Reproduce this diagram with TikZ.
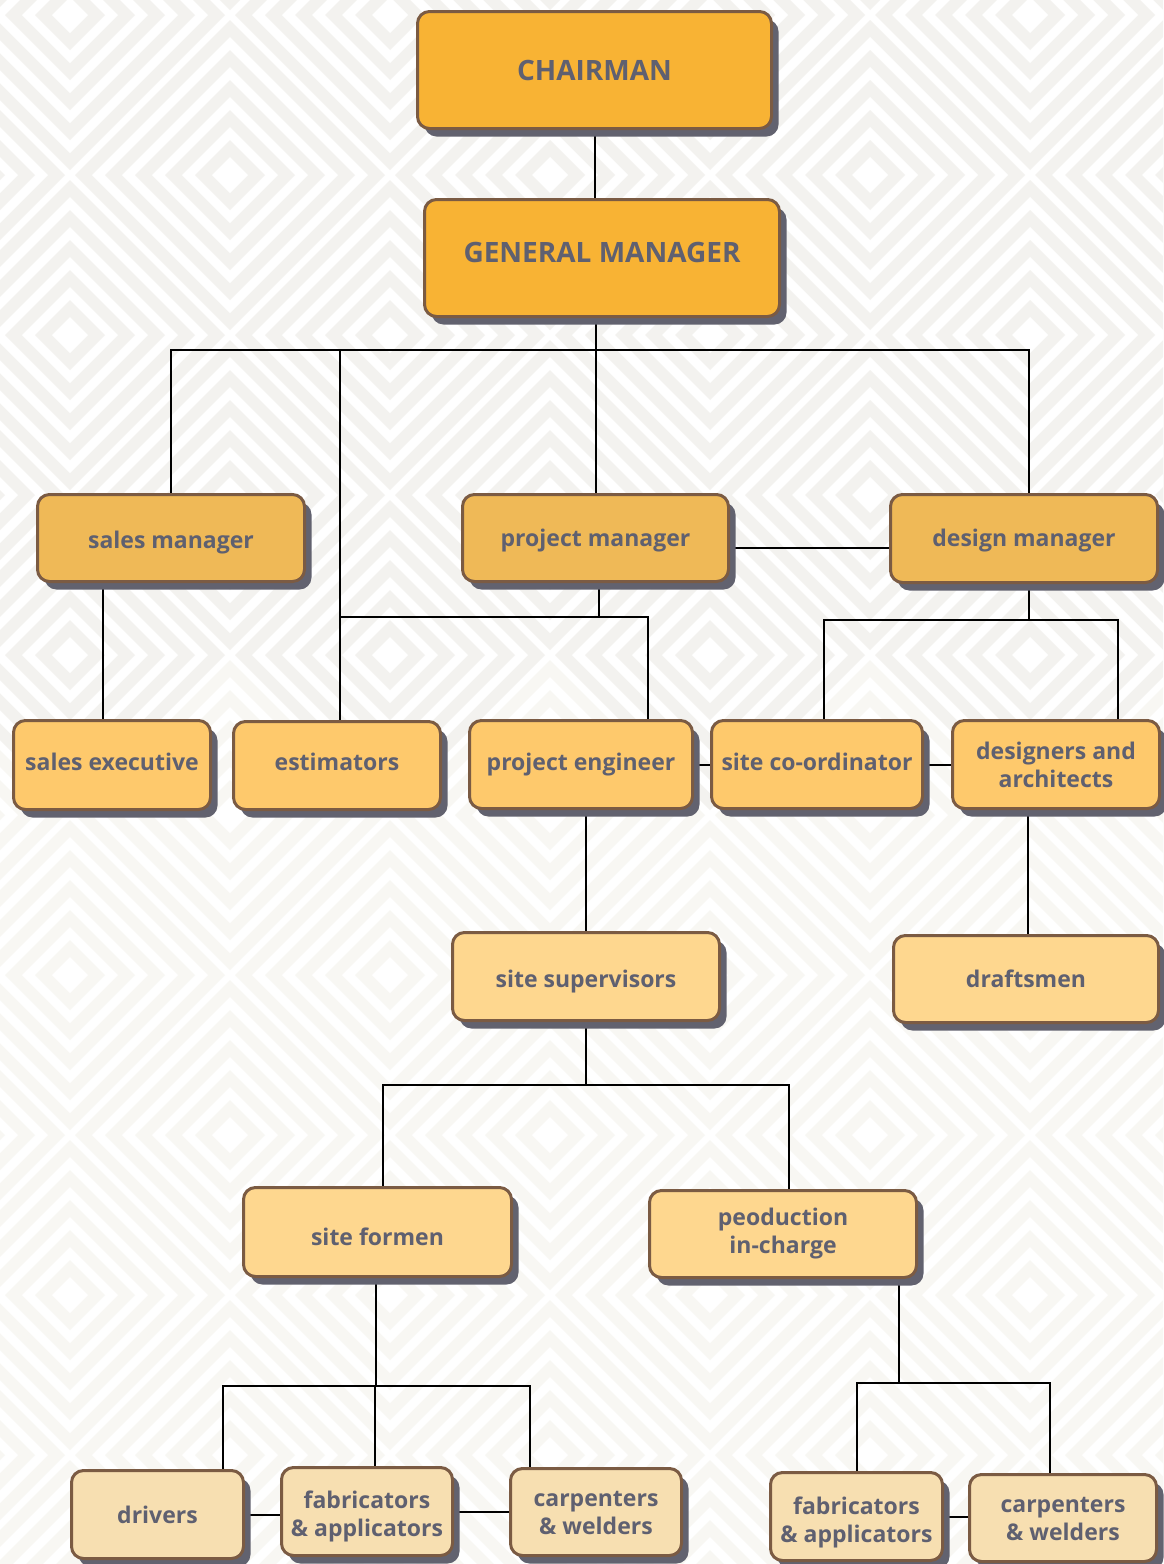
\documentclass[tikz,border=0pt]{standalone}
\usepackage{fontspec}
\setmainfont{Open Sans}
\usetikzlibrary{shadows}
\definecolor{bgA}{HTML}{F3F2EF}
\definecolor{bgB}{HTML}{F8F7F3}
\definecolor{brd}{HTML}{7B5B43}
\definecolor{shd}{HTML}{62626F}
\definecolor{txt}{HTML}{5F6070}
\definecolor{cA}{HTML}{F8B334}
\definecolor{cB}{HTML}{EFB957}
\definecolor{cC}{HTML}{FEC96C}
\definecolor{cD}{HTML}{FED78F}
\definecolor{cE}{HTML}{F7DFB1}
\pgfdeclarelayer{bg}\pgfdeclarelayer{mid}\pgfsetlayers{bg,mid,main}
\newcommand\bgcell[3]{%
  \foreach \r/\c in {155/#3,138/white,125/#3,108/white,95/#3,78/white,65/#3,48/white,35/#3,18/white}{%
    \fill[fill=\c] (#1-\r,#2) -- (#1,#2-\r) -- (#1+\r,#2) -- (#1,#2+\r) -- cycle;}}
\newcommand\bigf{\fontsize{28}{32}\selectfont\bfseries}
\newcommand\smf{\fontsize{23}{28}\selectfont\bfseries}
\tikzset{
  box/.style={draw=brd, line width=3pt, rounded corners=12pt, text=txt, font=\smf,
    align=center, inner sep=0pt,
    general shadow={fill=shd, shadow xshift=7pt, shadow yshift=-8pt}},
  tb/.style={text height=#1, text depth=5pt},
  conn/.style={line width=2pt, draw=black}
}
\begin{document}
\begin{tikzpicture}[x=1pt,y=-1pt]
\useasboundingbox (0,0) rectangle (1163,1564);
\begin{pgfonlayer}{bg}
\fill[white] (0,0) rectangle (1163,1564);
\begin{scope}
\clip (0,0) rectangle (1163,1564);
\foreach \j in {0,...,11}{
  \pgfmathsetmacro\yy{-145+160*\j}
  \pgfmathsetmacro\off{mod(\j+1,2)*160}
  \foreach \i in {0,...,5}{
    \pgfmathsetmacro\xx{-250+320*\i+\off}
    \ifdim\yy pt<800pt \def\cc{bgA}\else\def\cc{bgB}\fi
    \bgcell{\xx}{\yy}{\cc}
  }}
\end{scope}
\end{pgfonlayer}

% nodes
\node[box, fill=cA, minimum width=354pt, minimum height=117pt, font=\bigf, tb=25pt] (ch) at (594.5,70) {CHAIRMAN};
\node[box, fill=cA, minimum width=355pt, minimum height=117pt, font=\bigf, tb=13pt] (gm) at (602,258) {GENERAL MANAGER};
\node[box, fill=cB, minimum width=267pt, minimum height=87pt, tb=25pt] (sm) at (171,538) {sales manager};
\node[box, fill=cB, minimum width=266pt, minimum height=87pt, tb=21pt] (pm) at (595.5,538) {project manager};
\node[box, fill=cB, minimum width=267pt, minimum height=88pt, tb=20pt] (dm) at (1024,538.5) {design manager};
\node[box, fill=cC, minimum width=197pt, minimum height=89pt, tb=15pt] (se) at (112,765) {sales executive};
\node[box, fill=cC, minimum width=207pt, minimum height=88pt, tb=14pt] (est) at (337,765.5) {estimators};
\node[box, fill=cC, minimum width=223pt, minimum height=88pt, tb=16pt] (pe) at (581,764.5) {project engineer};
\node[box, fill=cC, minimum width=211pt, minimum height=88pt, tb=16pt] (sc) at (817,764.5) {site co-ordinator};
\node[box, fill=cC, minimum width=207pt, minimum height=88pt] (da) at (1056,764.5) {designers and\\architects};
\node[box, fill=cD, minimum width=267pt, minimum height=88pt, tb=26pt] (ss) at (586,976.5) {site supervisors};
\node[box, fill=cD, minimum width=265pt, minimum height=87pt, tb=21pt] (dr) at (1026,979) {draftsmen};
\node[box, fill=cD, minimum width=268pt, minimum height=89pt, tb=31pt] (sf) at (377.5,1232) {site formen};
\node[box, fill=cD, minimum width=267pt, minimum height=87pt] (pic) at (783,1234) {peoduction\\in-charge};
\node[box, fill=cE, minimum width=172pt, minimum height=88pt, tb=22pt] (drv) at (157.5,1514.5) {drivers};
\node[box, fill=cE, minimum width=171pt, minimum height=88pt, text height=50pt, text depth=0.5pt] (fa1) at (367,1511.5) {fabricators\\\& applicators};
\node[box, fill=cE, minimum width=171pt, minimum height=87pt, text height=48pt, text depth=2.5pt] (ca1) at (596,1512) {carpenters\\\& welders};
\node[box, fill=cE, minimum width=172pt, minimum height=88pt, text height=51pt, text depth=0pt] (fa2) at (856.5,1516.5) {fabricators\\\& applicators};
\node[box, fill=cE, minimum width=187pt, minimum height=87pt, text height=48pt, text depth=2.5pt] (ca2) at (1063,1518) {carpenters\\\& welders};

% connectors
\begin{pgfonlayer}{mid}
\coordinate (bus) at (0,350);
\coordinate (pmb) at (0,617);
\coordinate (dmb) at (0,620);
\coordinate (ssb) at (0,1085);
\coordinate (sfb) at (0,1386);
\coordinate (picb) at (0,1383);
\coordinate (dmt) at ([xshift=5pt]dm.north);
\coordinate (estt) at ([xshift=3pt]est.north);
\coordinate (pms) at ([xshift=3.5pt]pm.south);
\coordinate (pet) at ([xshift=67pt]pe.north);
\coordinate (dms) at ([xshift=5pt]dm.south);
\coordinate (sct) at ([xshift=7pt]sc.north);
\coordinate (dat) at ([xshift=62pt]da.north);
\coordinate (pme) at ([yshift=-10pt]pm.east);
\coordinate (smd) at ([xshift=-68pt]sm.south);
\coordinate (das) at ([xshift=-28pt]da.south);
\coordinate (sft) at ([xshift=5.5pt]sf.north);
\coordinate (pict) at ([xshift=6pt]pic.north);
\coordinate (sfs) at ([xshift=-1.5pt]sf.south);
\coordinate (drvt) at ([xshift=65.5pt]drv.north);
\coordinate (fa1t) at ([xshift=7.5pt]fa1.north);
\coordinate (ca1t) at ([xshift=-66pt]ca1.north);
\coordinate (pics) at ([xshift=116pt]pic.south);
\coordinate (ca2t) at ([xshift=-13pt]ca2.north);

\draw[conn] (ch.south) -- (ch.south |- gm.north);
\draw[conn] (pm.north) -- (pm.north |- gm.south);
\draw[conn] (sm.north) -- (sm.north |- bus) -- (dmt |- bus) -- (dmt);
\draw[conn] (estt) -- (estt |- bus);
\draw[conn] (pms) -- (pms |- pmb);
\draw[conn] (estt |- pmb) -- (pet |- pmb) -- (pet);
\draw[conn] (dms) -- (dms |- dmb);
\draw[conn] (sct) -- (sct |- dmb) -- (dat |- dmb) -- (dat);
\draw[conn] (pme) -- (pme -| dm.west);
\draw[conn] (smd) -- (smd |- se.north);
\draw[conn] (pe.east) -- (pe.east -| sc.west);
\draw[conn] (sc.east) -- (sc.east -| da.west);
\draw[conn] (das) -- (das |- dr.north);
\draw[conn] (ss.north) -- (ss.north |- pe.south);
\draw[conn] (ss.south) -- (ss.south |- ssb);
\draw[conn] (sft) -- (sft |- ssb) -- (pict |- ssb) -- (pict);
\draw[conn] (sfs) -- (sfs |- sfb);
\draw[conn] (drvt) -- (drvt |- sfb) -- (ca1t |- sfb) -- (ca1t);
\draw[conn] (fa1t) -- (fa1t |- sfb);
\draw[conn] (pics) -- (pics |- picb);
\draw[conn] (fa2.north) -- (fa2.north |- picb) -- (ca2t |- picb) -- (ca2t);
\draw[conn] (drv.east) -- (drv.east -| fa1.west);
\draw[conn] (fa1.east) -- (fa1.east -| ca1.west);
\draw[conn] (fa2.east) -- (fa2.east -| ca2.west);
\end{pgfonlayer}
\end{tikzpicture}
\end{document}
